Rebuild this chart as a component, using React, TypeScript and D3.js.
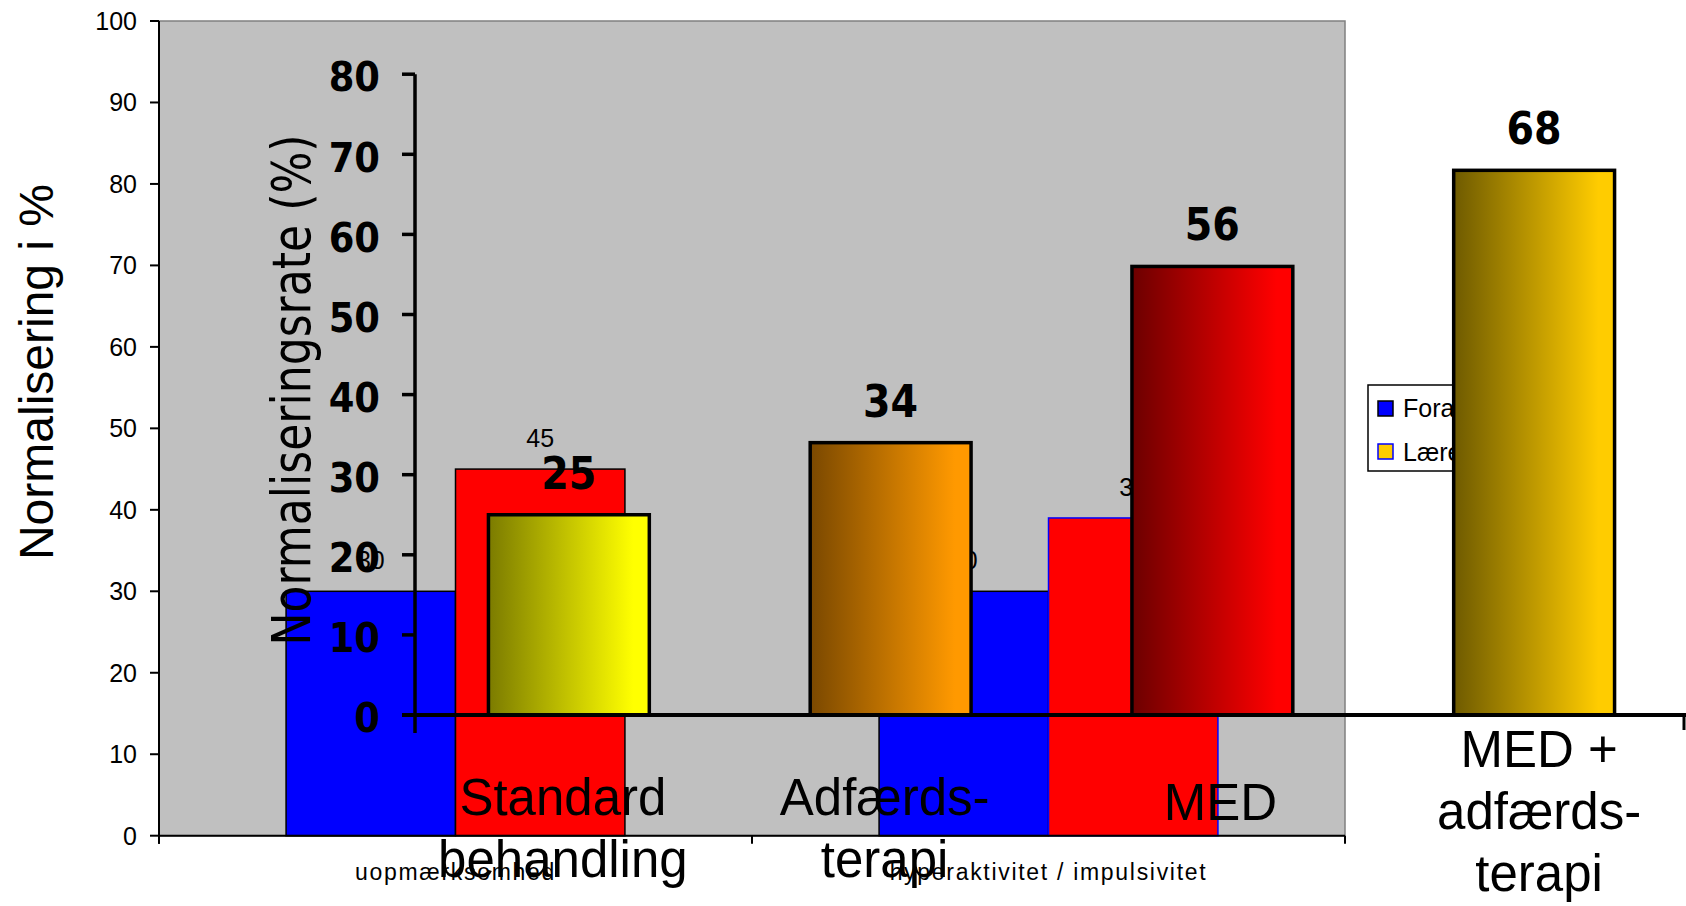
import React from "react";
import * as d3 from "d3";

// Background chart: normalisation by rater and symptom domain
const symptomGroups = ["uopmærksomhed", "hyperaktivitet / impulsivitet"];
const raterNames = ["Foraeldre", "Lærere"];
const parentValues = [30, 30];
const teacherValues = [45, 39];
const ticksBack = [0, 10, 20, 30, 40, 50, 60, 70, 80, 90, 100];

// Foreground chart: normalisation rate by treatment arm
const treatmentKeys = ["std", "adf", "med", "medadf"];
const treatmentLines = [["Standard", "behandling"], ["Adfærds-", "terapi"], ["MED"], ["MED +", "adfærds-", "terapi"]];
const normalisationRates = [25, 34, 56, 68];
const ticksFront = [0, 10, 20, 30, 40, 50, 60, 70, 80];

const W = 1686;
const H = 906;
const ARIAL = "'Liberation Sans', Arial, sans-serif";
const COND = "'DejaVu Sans Condensed', 'DejaVu Sans', sans-serif";

const raterFill = ["#0000FF", "#FF0000"];
const raterLegendFill = ["#0000FF", "#FFCC00"];
const raterLegendStroke = ["#000000", "#0000FF"];
const teacherStroke = ["#000000", "#0000FF"];
const gradientStops = [
  ["#7B7B00", "#FFFF00"],
  ["#7A4800", "#FF9900"],
  ["#6C0000", "#FF0000"],
  ["#6E5A00", "#FFCC00"],
];
// small horizontal nudges of the treatment captions
const captionShift = [-6, -6, 8, 5];

export default function App() {
  // back chart scales
  const plotA = { left: 159, right: 1345, top: 21, bottom: 835.7 };
  const yA = d3.scaleLinear().domain([0, 100]).range([plotA.bottom, plotA.top]);
  const xA = d3.scaleBand<string>().domain(symptomGroups).range([plotA.left, plotA.right]);
  const xSub = d3
    .scaleBand<string>()
    .domain(raterNames)
    .range([0, xA.bandwidth()])
    .paddingInner(0)
    .paddingOuter(0.75);
  const raterValues = [parentValues, teacherValues];

  // front chart scales
  const yB = d3.scaleLinear().domain([0, 80]).range([715, 74.2]);
  const xB = d3
    .scaleBand<string>()
    .domain(treatmentKeys)
    .range([408, 1695])
    .paddingInner(0.5)
    .paddingOuter(0.25);
  const axisBX = 415;

  return (
    <svg
      width={W}
      height={H}
      viewBox={`0 0 ${W} ${H}`}
      style={{ position: "absolute", left: 0, top: 0, display: "block", background: "#fff" }}
    >
      <defs>
        {gradientStops.map(([dark, bright], i) => (
          <linearGradient key={i} id={`grad${i}`} x1="0" y1="0" x2="1" y2="0">
            <stop offset="0" stopColor={dark} />
            <stop offset="0.9" stopColor={bright} />
            <stop offset="1" stopColor={bright} />
          </linearGradient>
        ))}
      </defs>

      {/* ---------- back chart ---------- */}
      <rect
        x={plotA.left}
        y={plotA.top}
        width={plotA.right - plotA.left}
        height={plotA.bottom - plotA.top}
        fill="#C0C0C0"
        stroke="#808080"
        strokeWidth={1.5}
      />
      {symptomGroups.map((g, gi) =>
        raterNames.map((r, ri) => {
          const v = raterValues[ri][gi];
          const x = (xA(g) ?? 0) + (xSub(r) ?? 0);
          const w = xSub.bandwidth();
          return (
            <g key={`${g}-${r}`}>
              <rect
                x={x}
                y={yA(v)}
                width={w}
                height={yA(0) - yA(v)}
                fill={raterFill[ri]}
                stroke={ri === 1 ? teacherStroke[gi] : "#000"}
                strokeWidth={1.5}
              />
              <text
                x={x + w / 2}
                y={yA(v) - 22}
                textAnchor="middle"
                fontFamily={ARIAL}
                fontSize={25}
                fill="#000"
              >
                {v}
              </text>
            </g>
          );
        })
      )}
      {/* back axes */}
      <line x1={plotA.left} x2={plotA.left} y1={plotA.top} y2={plotA.bottom + 8} stroke="#000" strokeWidth={2} />
      <line x1={plotA.left} x2={plotA.right} y1={plotA.bottom} y2={plotA.bottom} stroke="#000" strokeWidth={2} />
      {ticksBack.map((t) => (
        <g key={t}>
          <line x1={plotA.left - 9} x2={plotA.left} y1={yA(t)} y2={yA(t)} stroke="#000" strokeWidth={2} />
          <text
            x={137}
            y={yA(t)}
            dy="0.36em"
            textAnchor="end"
            fontFamily={ARIAL}
            fontSize={25}
            fill="#000"
          >
            {t}
          </text>
        </g>
      ))}
      {[...symptomGroups.map((g) => xA(g) ?? 0), plotA.right].map((x, i) => (
        <line key={i} x1={x} x2={x} y1={plotA.bottom} y2={plotA.bottom + 8} stroke="#000" strokeWidth={2} />
      ))}
      {symptomGroups.map((g) => (
        <text
          key={g}
          x={(xA(g) ?? 0) + xA.bandwidth() / 2}
          y={880}
          textAnchor="middle"
          fontFamily={ARIAL}
          fontSize={23}
          letterSpacing={1.7}
          fill="#000"
        >
          {g}
        </text>
      ))}
      <text
        transform="translate(53,372) rotate(-90)"
        textAnchor="middle"
        fontFamily={ARIAL}
        fontSize={48}
        fill="#000"
      >
        Normalisering i %
      </text>
      {/* back legend */}
      <g>
        <rect x={1368} y={385} width={200} height={86} fill="#fff" stroke="#000" strokeWidth={1.5} />
        {raterNames.map((r, i) => (
          <g key={r}>
            <rect
              x={1378}
              y={401 + i * 43}
              width={15}
              height={15}
              fill={raterLegendFill[i]}
              stroke={raterLegendStroke[i]}
              strokeWidth={1.5}
            />
            <text x={1403} y={417 + i * 44} fontFamily={ARIAL} fontSize={25} fill="#000">
              {r}
            </text>
          </g>
        ))}
      </g>

      {/* ---------- front chart ---------- */}
      <text
        transform="translate(310,390) rotate(-90)"
        textAnchor="middle"
        fontFamily={COND}
        fontStretch="condensed"
        fontSize={54}
        textLength={511}
        lengthAdjust="spacingAndGlyphs"
        fill="#000"
      >
        Normaliseringsrate (%)
      </text>
      {treatmentKeys.map((k, i) => {
        const v = normalisationRates[i];
        const x = xB(k) ?? 0;
        const w = xB.bandwidth();
        return (
          <g key={k}>
            <rect
              x={x}
              y={yB(v)}
              width={w}
              height={yB(0) - yB(v)}
              fill={`url(#grad${i})`}
              stroke="#000"
              strokeWidth={3.5}
            />
            <text
              x={x + w / 2}
              y={yB(v) - 26}
              textAnchor="middle"
              fontFamily={COND}
              fontStretch="condensed"
              fontWeight="bold"
              fontSize={44}
              fill="#000"
            >
              {v}
            </text>
          </g>
        );
      })}
      {/* front axes */}
      <line x1={axisBX} x2={axisBX} y1={yB(80)} y2={yB(0) + 18} stroke="#000" strokeWidth={3.5} />
      <line x1={axisBX - 13} x2={W} y1={yB(0)} y2={yB(0)} stroke="#000" strokeWidth={4} />
      <line x1={W - 2} x2={W - 2} y1={yB(0)} y2={yB(0) + 15} stroke="#000" strokeWidth={3} />
      {ticksFront.map((t) => (
        <g key={t}>
          <line x1={axisBX - 13} x2={axisBX} y1={yB(t)} y2={yB(t)} stroke="#000" strokeWidth={3.5} />
          <text
            x={380}
            y={yB(t)}
            dy="0.42em"
            textAnchor="end"
            fontFamily={COND}
            fontStretch="condensed"
            fontWeight="bold"
            fontSize={41}
            fill="#000"
          >
            {t}
          </text>
        </g>
      ))}
      {treatmentKeys.map((k, i) => {
        const lines = treatmentLines[i];
        const cx = (xB(k) ?? 0) + xB.bandwidth() / 2 + captionShift[i];
        const first = lines.length > 2 ? 767 : lines.length === 1 ? 820 : 815;
        return (
          <text key={k} textAnchor="middle" fontFamily={ARIAL} fontSize={51} fill="#000">
            {lines.map((ln, j) => (
              <tspan key={j} x={cx} y={first + j * 62}>
                {ln}
              </tspan>
            ))}
          </text>
        );
      })}
    </svg>
  );
}
